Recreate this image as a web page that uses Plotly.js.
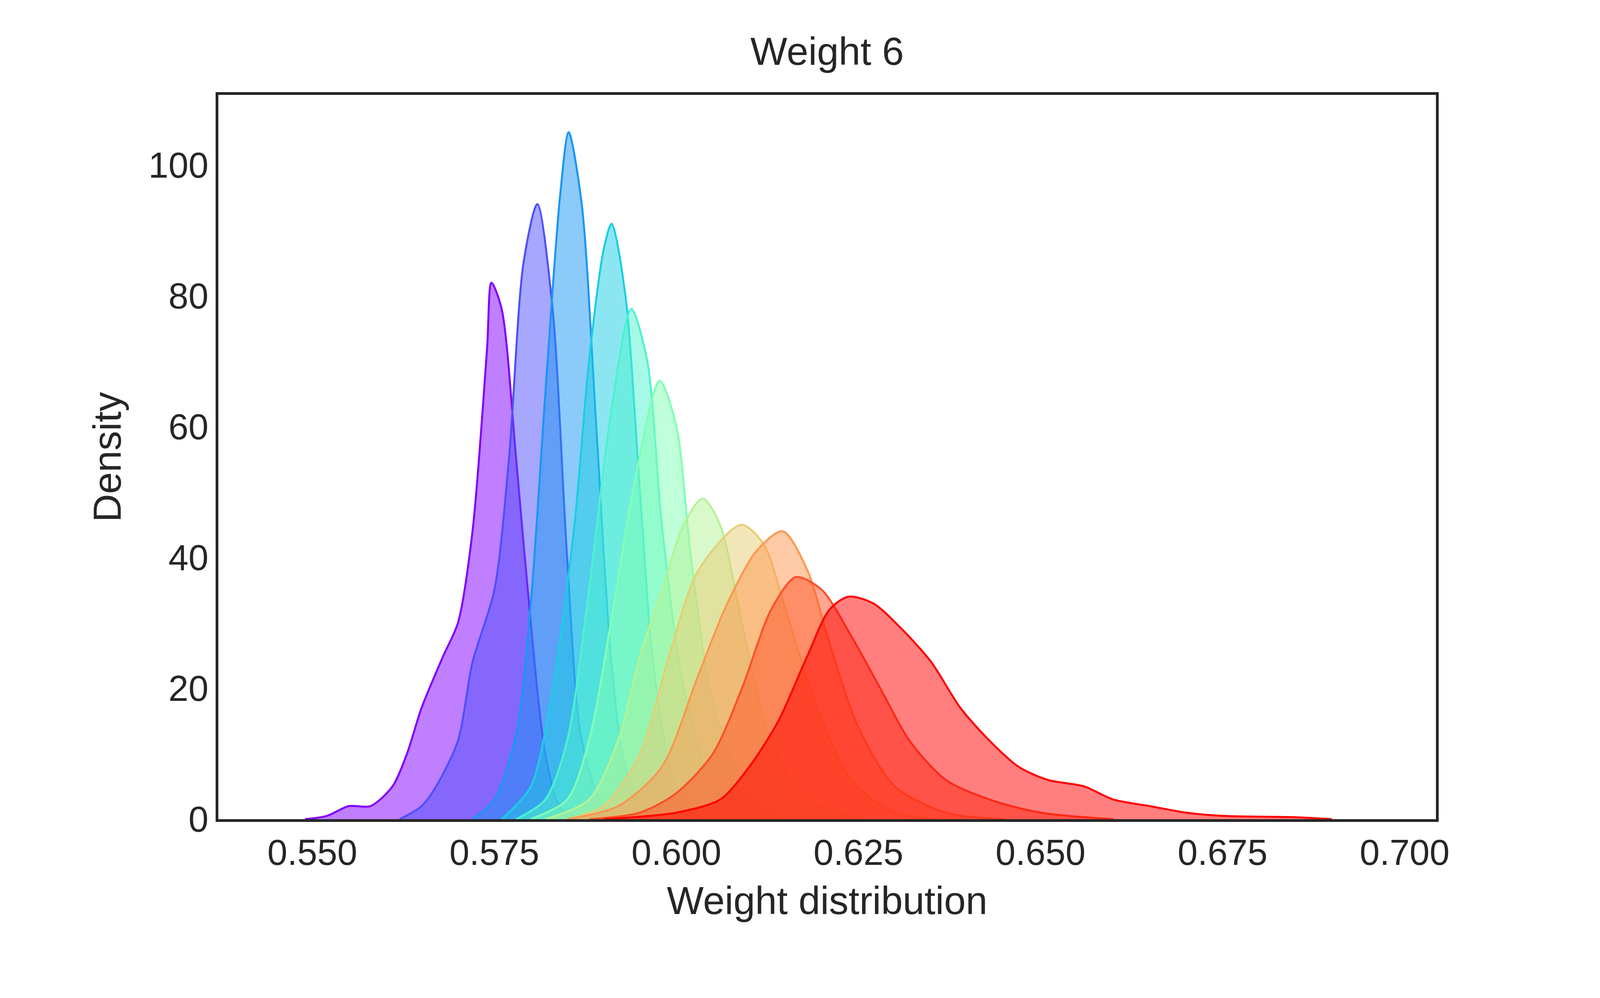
<!DOCTYPE html>
<html><head><meta charset="utf-8">
<script src="https://cdn.plot.ly/plotly-3.0.1.min.js"></script>
<style>html,body{margin:0;padding:0;overflow:hidden;width:5195px;height:2556px}</style></head>
<body><div id="c" style="width:5195px;height:2556px"></div>
<script>
const labels = ["0.0","1.0","2.0","3.0","4.0","5.0","6.0","7.0","8.0","9.0","10.0"];
const colors = ["#8000ff","#4d4ffc","#1a96f3","#1acee3","#4df3ce","#80ffb4","#b3f396","#e6ce74","#ff964f","#ff4f28","#ff0000"];
const x0 = [0.549,0.552,0.555,0.558,0.561,0.563,0.565,0.568,0.570,0.572,0.574,0.5746,0.576,0.578,0.580,0.582,0.584,0.587];
const y0 = [0,0.5,2,2,5,10,17,25,30,44,72,82,78,55,30,10,2,0];
const x1 = [0.562,0.565,0.567,0.570,0.572,0.575,0.577,0.579,0.5809,0.583,0.585,0.587,0.590,0.593];
const y1 = [0,2,5,12,24,35,55,85,94,78,40,12,2,0];
const x2 = [0.572,0.575,0.578,0.580,0.582,0.584,0.5852,0.587,0.589,0.591,0.593,0.596,0.599];
const y2 = [0,3,13,33,65,95,105,94,60,25,8,1,0];
const x3 = [0.576,0.580,0.583,0.586,0.588,0.590,0.5911,0.593,0.595,0.597,0.600,0.604];
const y3 = [0,5,20,45,70,87,91,80,50,22,5,0];
const x4 = [0.578,0.582,0.585,0.588,0.591,0.5938,0.596,0.598,0.601,0.605,0.610];
const y4 = [0,3,12,35,62,78,70,45,20,5,0];
const x5 = [0.580,0.585,0.588,0.591,0.594,0.5977,0.600,0.602,0.605,0.610,0.615];
const y5 = [0,3,12,30,50,67,60,40,18,4,0];
const x6 = [0.582,0.588,0.592,0.595,0.598,0.601,0.6036,0.606,0.609,0.613,0.618,0.625];
const y6 = [0,3,12,25,35,45,49,45,30,12,3,0];
const x7 = [0.585,0.590,0.595,0.599,0.603,0.6089,0.612,0.615,0.619,0.624,0.630,0.636];
const y7 = [0,2,10,25,38,45,42,32,18,6,1,0];
const x8 = [0.585,0.592,0.598,0.603,0.607,0.611,0.6146,0.618,0.621,0.625,0.630,0.637,0.645];
const y8 = [0,2,8,22,33,41,44,38,27,14,5,1,0];
const x9 = [0.588,0.595,0.600,0.605,0.609,0.613,0.6164,0.620,0.624,0.628,0.632,0.637,0.643,0.650,0.660];
const y9 = [0,1,4,10,20,32,37,35,28,20,12,6,3,1,0];
const x10 = [0.590,0.600,0.606,0.610,0.614,0.618,0.621,0.6236,0.627,0.631,0.635,0.639,0.643,0.647,0.651,0.656,0.660,0.665,0.670,0.675,0.685,0.690];
const y10 = [0,1,3,8,15,25,32,34,33,29,24,17,12,8,6,5,3,2,1,0.5,0.3,0];
const xs=[x0,x1,x2,x3,x4,x5,x6,x7,x8,x9,x10], ys=[y0,y1,y2,y3,y4,y5,y6,y7,y8,y9,y10];
function rgba(h,a){const n=parseInt(h.slice(1),16);return `rgba(${n>>16},${(n>>8)&255},${n&255},${a})`;}
const traces = labels.map((l,i)=>({x:xs[i],y:ys[i],name:'  '+l,type:'scatter',mode:'lines',
  fill:'toself',fillcolor:rgba(colors[i],0.5),line:{color:colors[i],width:5,shape:'spline',smoothing:0.8},
  legendgroup:'g'+i}));
const font='"Liberation Sans", Arial, sans-serif';
const ax={showgrid:false,zeroline:false,showline:true,mirror:true,linecolor:'#262626',linewidth:7,ticks:'',
  tickfont:{size:92,color:'#262626',family:font}};
Plotly.newPlot('c',traces,{
  width:5195,height:2556,autosize:false,paper_bgcolor:'white',plot_bgcolor:'white',
  margin:{l:559,r:1519,t:243,b:458,autoexpand:false},
  title:{text:'Weight 6',font:{size:100,color:'#262626',family:font},x:0.4076,xanchor:'center',y:0.935,yanchor:'bottom'},
  xaxis:Object.assign({},ax,{range:[0.5371,0.7043],tickvals:[0.55,0.575,0.6,0.625,0.65,0.675,0.7],ticktext:['0.550','0.575','0.600','0.625','0.650','0.675','0.700'],
    title:{text:'Weight distribution',font:{size:100,color:'#262626',family:font},standoff:40}}),
  yaxis:Object.assign({},ax,{range:[0,110.7],tickvals:[0,20,40,60,80,100],
    title:{text:'Density',font:{size:100,color:'#262626',family:font},standoff:40}}),
  showlegend:true,
  legend:{x:1.252,y:1.0146,xanchor:'left',yanchor:'top',bordercolor:'#cccccc',borderwidth:5,
    font:{size:92,color:'#262626',family:font},tracegroupgap:48,itemwidth:200}
},{staticPlot:true});
</script></body></html>
